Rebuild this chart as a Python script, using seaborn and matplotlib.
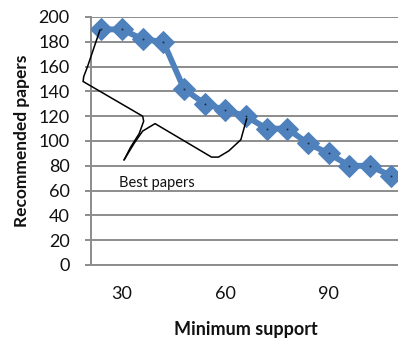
import numpy as np
import pandas as pd
import seaborn as sns
import matplotlib.pyplot as plt

# Data
min_support = [24, 30, 36, 42, 48, 54, 60, 66, 72, 78, 84, 90, 96, 102, 108]
recommended = [190, 190, 182, 180, 142, 130, 125, 120, 110, 110, 98, 90, 80, 80, 72]
x_ticks = [30, 60, 90]
y_ticks = list(range(0, 201, 20))

# hand drawn brace around the "best papers" (data coords)
brace_a_x = [23.6, 20.0, 18.9, 18.7, 36.0, 36.3, 35.0, 32.5, 30.6]
brace_a_y = [189.5, 160.0, 152.0, 148.0, 120.0, 116.0, 106.0, 95.0, 84.7]
brace_b_x = [30.6, 33.5, 36.0, 39.6, 56.0, 58.0, 61.0, 64.5, 66.2]
brace_b_y = [84.7, 98.0, 108.0, 114.0, 87.0, 87.0, 92.0, 101.0, 118.0]

df = pd.DataFrame({"support": min_support, "papers": recommended})

sns.set_theme(style="white")
plt.rcParams["font.family"] = ["Lato", "DejaVu Sans"]

fig = plt.figure(figsize=(3.98, 3.39), dpi=100)
ax = fig.add_axes([0.2286, 0.2183, 0.779, 0.7316])

sns.lineplot(data=df, x="support", y="papers", ax=ax, color="#4F81BD",
             linewidth=4.2, marker="D", markersize=11, markeredgecolor="#4F81BD",
             zorder=3)
# tiny dark dot in the middle of each diamond
sns.scatterplot(data=df, x="support", y="papers", ax=ax, color="#1F2F45",
                s=2, linewidth=0, zorder=4)

ax.plot(brace_a_x, brace_a_y, color="black", lw=1.1, clip_on=False, zorder=5)
ax.plot(brace_b_x, brace_b_y, color="black", lw=1.1, clip_on=False, zorder=5)
ax.text(40.0, 66, "Best papers", fontsize=10.5, ha="center", va="center", color="#111111")

ax.set_xlim(21, 111)
ax.set_ylim(0, 200)
ax.set_xticks(x_ticks)
ax.set_yticks(y_ticks)
ax.yaxis.grid(True, color="#8C8C8C", lw=1.4)
ax.xaxis.grid(False)

for side in ["top", "right"]:
    ax.spines[side].set_visible(False)
for side in ["left", "bottom"]:
    ax.spines[side].set_color("#8C8C8C")
    ax.spines[side].set_linewidth(1.4)

ax.tick_params(axis="y", which="major", left=True, length=4.3, width=1.4,
               color="#8C8C8C", labelsize=13, pad=11, labelcolor="#111111")
ax.tick_params(axis="x", which="major", bottom=False, labelsize=13, pad=9,
               labelcolor="#111111")

ax.set_xlabel("Minimum support", fontsize=13, fontweight="bold", labelpad=14,
              color="#111111")
ax.set_ylabel("Recommended papers", fontsize=12.5, fontweight="bold", labelpad=6,
              color="#111111")

fig.savefig("out.png", dpi=100)
